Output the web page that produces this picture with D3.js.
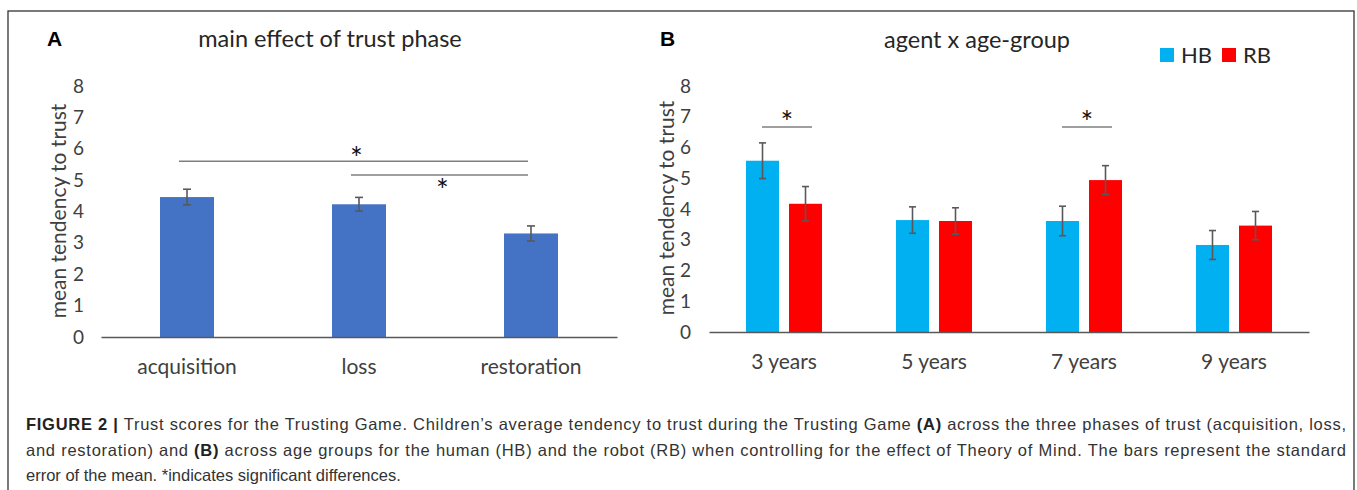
<!DOCTYPE html>
<html>
<head>
<meta charset="utf-8">
<script src="https://cdn.jsdelivr.net/npm/d3@7"></script>
<style>
  body { margin: 0; background: #fff; }
  svg { display: block; }
  .chart text { font-family: Lato, "Noto Sans", sans-serif; fill: #404040; }
  .caption text { font-family: "Liberation Sans", Arial, sans-serif; fill: #333; }
</style>
</head>
<body>
<div id="fig"></div>
<script>
// panel A: main effect of trust phase
const phases = ["acquisition", "loss", "restoration"];
const phaseMeans = [4.46, 4.23, 3.30];
const phaseErr = [0.25, 0.22, 0.24];

// panel B: agent x age-group
const ages = ["3 years", "5 years", "7 years", "9 years"];
const agents = ["HB", "RB"];
const hbMeans = [5.57, 3.64, 3.61, 2.83];
const hbErr = [0.58, 0.43, 0.48, 0.47];
const rbMeans = [4.17, 3.61, 4.94, 3.46];
const rbErr = [0.56, 0.43, 0.47, 0.46];

const yTicks = [0, 1, 2, 3, 4, 5, 6, 7, 8];

// significance brackets
const sigA = [
  { from: "acquisition", to: "restoration", level: 5.6, star: "above" },
  { from: "loss", to: "restoration", level: 5.16, star: "below" }
];
const sigB = [
  { age: "3 years", level: 6.67 },
  { age: "7 years", level: 6.67 }
];

const captionLines = [
  [["FIGURE 2 | ", true], ["Trust scores for the Trusting Game. Children\u2019s average tendency to trust during the Trusting Game ", false], ["(A)", true], [" across the three phases of trust (acquisition, loss,", false]],
  [["and restoration) and ", false], ["(B)", true], [" across age groups for the human (HB) and the robot (RB) when controlling for the effect of Theory of Mind. The bars represent the standard", false]],
  [["error of the mean. *indicates significant differences.", false]]
];

const width = 1357, height = 490;
const colA = "#4472C4";
const colors = { HB: "#00B0F0", RB: "#FF0000" };
const errCol = "#595959";
const sigCol = "#7f7f7f";

const svg = d3.select("#fig").append("svg")
  .attr("width", width)
  .attr("height", height);

svg.append("rect")
  .attr("x", 8).attr("y", 11)
  .attr("width", 1346).attr("height", 600)
  .attr("fill", "none")
  .attr("stroke", "#333")
  .attr("stroke-width", 1.3);

const chart = svg.append("g").attr("class", "chart");

// ---------- panel A ----------
const xA = d3.scaleBand().domain(phases).range([101, 617])
  .paddingInner(0.686).paddingOuter(0.343);
const yA = d3.scaleLinear().domain([0, 8]).range([337, 86]);

const gA = chart.append("g");

gA.append("g")
  .attr("transform", `translate(${xA.range()[0]},0)`)
  .call(d3.axisLeft(yA).tickValues(yTicks).tickSize(0).tickPadding(17))
  .call(g => g.select(".domain").remove())
  .call(g => g.selectAll("text").attr("font-size", 19).attr("fill", "#404040"));

const dataA = phases.map((p, i) => ({ p, v: phaseMeans[i], e: phaseErr[i] }));

gA.selectAll("rect.bar")
  .data(dataA)
  .join("rect")
  .attr("class", "bar")
  .attr("x", d => xA(d.p))
  .attr("y", d => yA(d.v))
  .attr("width", xA.bandwidth())
  .attr("height", d => yA(0) - yA(d.v))
  .attr("fill", colA);

const errA = gA.append("g").attr("stroke", errCol).attr("stroke-width", 1.6);
dataA.forEach(d => {
  const cx = xA(d.p) + xA.bandwidth() / 2;
  errA.append("line").attr("x1", cx).attr("x2", cx).attr("y1", yA(d.v + d.e)).attr("y2", yA(d.v - d.e));
  errA.append("line").attr("x1", cx - 4).attr("x2", cx + 4).attr("y1", yA(d.v + d.e)).attr("y2", yA(d.v + d.e));
  errA.append("line").attr("x1", cx - 4).attr("x2", cx + 4).attr("y1", yA(d.v - d.e)).attr("y2", yA(d.v - d.e));
});

gA.append("g")
  .attr("transform", `translate(0,${yA(0)})`)
  .call(d3.axisBottom(xA).tickSize(0).tickSizeOuter(0).tickPadding(22))
  .call(g => g.select(".domain").attr("stroke", "#595959").attr("stroke-width", 1.6))
  .call(g => g.selectAll("text").attr("font-size", 21).attr("fill", "#404040"));

sigA.forEach(s => {
  const x1 = xA(s.from) + xA.bandwidth() / 2 - 8;
  const x2 = xA(s.to) + xA.bandwidth() / 2 - 3;
  const ly = yA(s.level);
  gA.append("line")
    .attr("x1", x1).attr("x2", x2).attr("y1", ly).attr("y2", ly)
    .attr("stroke", sigCol).attr("stroke-width", 1.5);
  gA.append("text")
    .attr("x", (x1 + x2) / 2 + 3)
    .attr("y", s.star === "above" ? ly + 8 : ly + 26)
    .attr("text-anchor", "middle")
    .attr("font-size", 30)
    .style("fill", "#111")
    .text("*");
});

gA.append("text")
  .attr("x", 330).attr("y", 47)
  .attr("text-anchor", "middle")
  .attr("font-size", 23.5)
  .style("fill", "#262626")
  .text("main effect of trust phase");

gA.append("text")
  .attr("transform", "translate(57,211) rotate(-90)")
  .attr("text-anchor", "middle")
  .attr("dominant-baseline", "central")
  .attr("font-size", 21)
  .text("mean tendency to trust");

gA.append("text")
  .attr("x", 47).attr("y", 46)
  .attr("font-size", 21)
  .attr("font-weight", "bold")
  .style("font-family", "'Liberation Sans', Arial, sans-serif")
  .style("fill", "#000")
  .text("A");

// ---------- panel B ----------
const xB = d3.scaleBand().domain(ages).range([709, 1309])
  .paddingInner(0.4933).paddingOuter(0.2467);
const xSub = d3.scaleBand().domain(agents).range([0, xB.bandwidth()])
  .paddingInner(0.2326).paddingOuter(0);
const yB = d3.scaleLinear().domain([0, 8]).range([332, 86]);

const gB = chart.append("g");

gB.append("g")
  .attr("transform", `translate(${xB.range()[0]},0)`)
  .call(d3.axisLeft(yB).tickValues(yTicks).tickSize(0).tickPadding(18))
  .call(g => g.select(".domain").remove())
  .call(g => g.selectAll("text").attr("font-size", 19).attr("fill", "#404040"));

const dataB = [];
ages.forEach((a, i) => {
  dataB.push({ a, k: "HB", v: hbMeans[i], e: hbErr[i] });
  dataB.push({ a, k: "RB", v: rbMeans[i], e: rbErr[i] });
});

gB.selectAll("rect.bar")
  .data(dataB)
  .join("rect")
  .attr("class", "bar")
  .attr("x", d => xB(d.a) + xSub(d.k))
  .attr("y", d => yB(d.v))
  .attr("width", xSub.bandwidth())
  .attr("height", d => yB(0) - yB(d.v))
  .attr("fill", d => colors[d.k]);

const errB = gB.append("g").attr("stroke", errCol).attr("stroke-width", 1.6);
dataB.forEach(d => {
  const cx = xB(d.a) + xSub(d.k) + xSub.bandwidth() / 2;
  errB.append("line").attr("x1", cx).attr("x2", cx).attr("y1", yB(d.v + d.e)).attr("y2", yB(d.v - d.e));
  errB.append("line").attr("x1", cx - 3.5).attr("x2", cx + 3.5).attr("y1", yB(d.v + d.e)).attr("y2", yB(d.v + d.e));
  errB.append("line").attr("x1", cx - 3.5).attr("x2", cx + 3.5).attr("y1", yB(d.v - d.e)).attr("y2", yB(d.v - d.e));
});

gB.append("g")
  .attr("transform", `translate(0,${yB(0)})`)
  .call(d3.axisBottom(xB).tickSize(0).tickSizeOuter(0).tickPadding(22))
  .call(g => g.select(".domain").attr("stroke", "#595959").attr("stroke-width", 1.6))
  .call(g => g.selectAll("text").attr("font-size", 21).attr("fill", "#404040"));

sigB.forEach(s => {
  const cx = xB(s.age) + xB.bandwidth() / 2 + 3;
  const ly = yB(s.level);
  gB.append("line")
    .attr("x1", cx - 25).attr("x2", cx + 25).attr("y1", ly).attr("y2", ly)
    .attr("stroke", sigCol).attr("stroke-width", 1.5);
  gB.append("text")
    .attr("x", cx)
    .attr("y", ly + 6)
    .attr("text-anchor", "middle")
    .attr("font-size", 30)
    .style("fill", "#111")
    .text("*");
});

gB.append("text")
  .attr("x", 977).attr("y", 48)
  .attr("text-anchor", "middle")
  .attr("font-size", 23.5)
  .style("fill", "#262626")
  .text("agent x age-group");

gB.append("text")
  .attr("transform", "translate(665,208) rotate(-90)")
  .attr("text-anchor", "middle")
  .attr("dominant-baseline", "central")
  .attr("font-size", 21)
  .text("mean tendency to trust");

gB.append("text")
  .attr("x", 660).attr("y", 46)
  .attr("font-size", 21)
  .attr("font-weight", "bold")
  .style("font-family", "'Liberation Sans', Arial, sans-serif")
  .style("fill", "#000")
  .text("B");

const legend = gB.append("g").attr("transform", "translate(1160,48)");
agents.forEach((k, i) => {
  const lg = legend.append("g").attr("transform", `translate(${i * 62},0)`);
  lg.append("rect").attr("width", 14).attr("height", 14).attr("fill", colors[k]);
  lg.append("text").attr("x", 21).attr("y", 15).attr("font-size", 22).style("fill", "#262626").text(k);
});

// ---------- caption ----------
const cap = svg.append("g").attr("class", "caption");
const capY = [430, 456, 481];
captionLines.forEach((parts, i) => {
  const t = cap.append("text")
    .attr("x", 26).attr("y", capY[i])
    .attr("font-size", 16.5);
  if (i < 2) t.attr("textLength", 1320).attr("lengthAdjust", "spacing");
  parts.forEach(([str, bold]) => {
    t.append("tspan")
      .attr("font-weight", bold ? "bold" : null)
      .style("fill", bold ? "#222" : null)
      .text(str);
  });
});
</script>
</body>
</html>
